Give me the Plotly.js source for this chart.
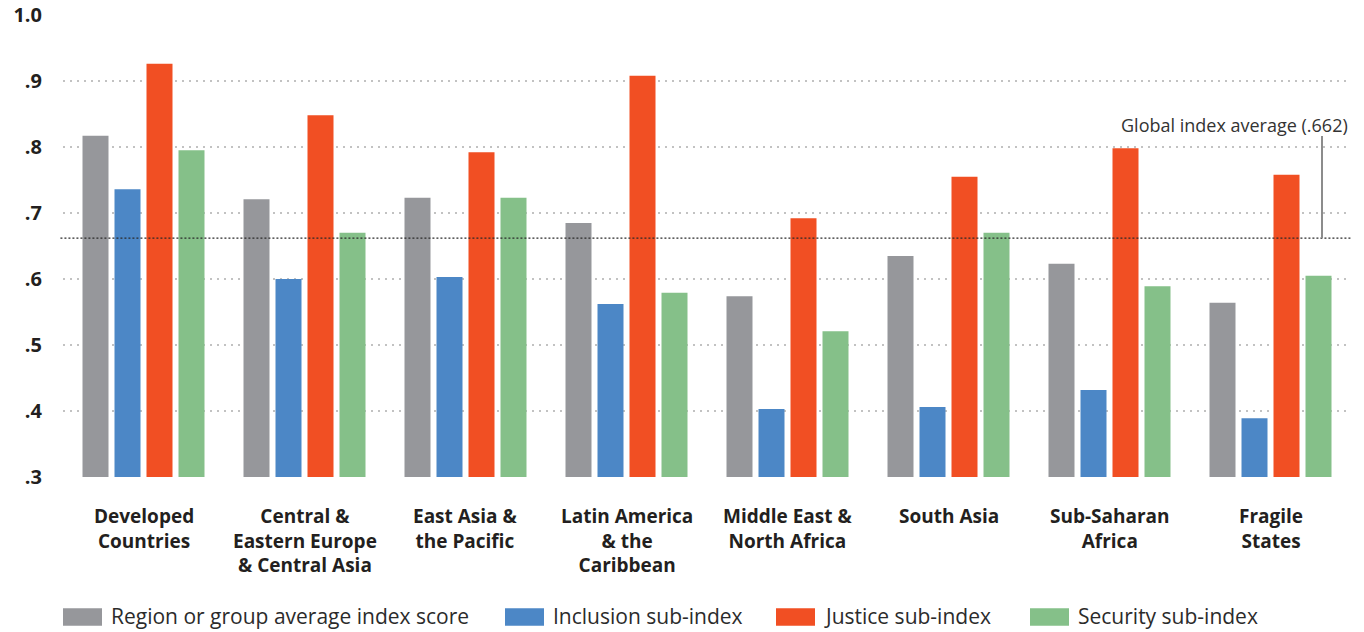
<!DOCTYPE html>
<html>
<head>
<meta charset="utf-8">
<script src="https://cdn.plot.ly/plotly-3.0.1.min.js"></script>
<style>
  html, body { margin: 0; padding: 0; background: #ffffff; }
  #chart { width: 1364px; height: 632px; }
</style>
</head>
<body>
<div id="chart"></div>
<script>
// Regions / groups shown along the x axis ("<br>" marks a line break in the label)
const categories = [
  "Developed<br>Countries",
  "Central &<br>Eastern Europe<br>& Central Asia",
  "East Asia &<br>the Pacific",
  "Latin America<br>& the<br>Caribbean",
  "Middle East &<br>North Africa",
  "South Asia",
  "Sub-Saharan<br>Africa",
  "Fragile<br>States"
];

// Index scores per region
const averageScore = [0.817, 0.721, 0.723, 0.685, 0.574, 0.635, 0.623, 0.564];
const inclusionScore = [0.736, 0.600, 0.603, 0.562, 0.403, 0.406, 0.432, 0.389];
const justiceScore = [0.926, 0.848, 0.792, 0.908, 0.692, 0.755, 0.798, 0.758];
const securityScore = [0.795, 0.670, 0.723, 0.579, 0.521, 0.670, 0.589, 0.605];

const globalAverage = 0.662;

const seriesNames = [
  "Region or group average index score",
  "Inclusion sub-index",
  "Justice sub-index",
  "Security sub-index"
];

const yTickValues = [0.3, 0.4, 0.5, 0.6, 0.7, 0.8, 0.9, 1.0];
const yTickLabels = [".3", ".4", ".5", ".6", ".7", ".8", ".9", "1.0"];

// ---- styling ----
const seriesColors = ["#96979b", "#4c87c6", "#f14f23", "#85c089"];
const textColor = "#231f20";
const fontFamily = "'Open Sans', 'Noto Sans', sans-serif";

const W = 1364, H = 632;
const M = { l: 63, r: 13, t: 15, b: 155 };
const plotW = W - M.l - M.r;
const plotH = H - M.t - M.b;
const paperX = px => (px - M.l) / plotW;
const paperY = py => (H - M.b - py) / plotH;

const seriesValues = [averageScore, inclusionScore, justiceScore, securityScore];

const traces = seriesValues.map((vals, i) => ({
  type: "bar",
  name: seriesNames[i],
  x: categories,
  y: vals,
  marker: { color: seriesColors[i], line: { width: 0 } },
  hoverinfo: "x+y+name"
}));

const shapes = [];
const annotations = [];

// Global average reference line and its leader
shapes.push({
  type: "line", xref: "paper", yref: "y",
  x0: -0.002, x1: 1.0, y0: globalAverage, y1: globalAverage,
  line: { color: "#2a2a2a", width: 1.3, dash: "2px,2px" },
  layer: "above"
});
const leaderTopY = 0.3 + (H - M.b - 136) / plotH * 0.7;
shapes.push({
  type: "line", xref: "paper", yref: "y",
  x0: paperX(1322), x1: paperX(1322), y0: globalAverage, y1: leaderTopY,
  line: { color: "#8c8c8c", width: 2 },
  layer: "above"
});
annotations.push({
  xref: "paper", yref: "paper",
  x: paperX(1350), y: paperY(124.7),
  xanchor: "right", yanchor: "middle",
  showarrow: false,
  text: "Global index average (" + globalAverage.toFixed(3).replace(/^0/, "") + ")",
  font: { family: fontFamily, size: 18, color: "#333333" }
});

// Category labels under each bar group
categories.forEach(cat => {
  annotations.push({
    xref: "x", yref: "paper",
    x: cat, y: paperY(501),
    xanchor: "center", yanchor: "top", align: "center",
    showarrow: false,
    text: cat,
    font: { family: fontFamily, size: 19, color: textColor, weight: 700 }
  });
});

// Legend row beneath the chart
const legendBoxLeft = [63, 505, 776, 1030];
const legendBoxW = 39, legendBoxTop = 608.3, legendBoxBottom = 625.7;
seriesNames.forEach((name, i) => {
  shapes.push({
    type: "rect", xref: "paper", yref: "paper",
    x0: paperX(legendBoxLeft[i]), x1: paperX(legendBoxLeft[i] + legendBoxW),
    y0: paperY(legendBoxBottom), y1: paperY(legendBoxTop),
    fillcolor: seriesColors[i], line: { width: 0 }
  });
  annotations.push({
    xref: "paper", yref: "paper",
    x: paperX(legendBoxLeft[i] + legendBoxW + 7), y: paperY(616.2),
    xanchor: "left", yanchor: "middle",
    showarrow: false,
    text: name,
    font: { family: fontFamily, size: 21, color: "#2b2b2b" }
  });
});

const layout = {
  width: W, height: H,
  margin: M,
  paper_bgcolor: "#ffffff",
  plot_bgcolor: "#ffffff",
  barmode: "group",
  bargap: 0.205,
  bargroupgap: 0.1875,
  showlegend: false,
  font: { family: fontFamily, color: textColor },
  xaxis: {
    type: "category",
    range: [-0.5, categories.length - 0.5],
    showticklabels: false,
    showgrid: false,
    zeroline: false,
    showline: false,
    ticks: ""
  },
  yaxis: {
    range: [0.3, 1.0],
    tickvals: yTickValues,
    ticktext: yTickLabels,
    ticks: "",
    ticklabelstandoff: 20,
    tickfont: { family: fontFamily, size: 20, color: textColor, weight: 700 },
    showgrid: true,
    gridcolor: "#c2c2c2",
    gridwidth: 2,
    griddash: "2px,5px",
    zeroline: false,
    showline: false
  },
  shapes: shapes,
  annotations: annotations
};

Plotly.newPlot("chart", traces, layout, { displayModeBar: false, responsive: false });
</script>
</body>
</html>
